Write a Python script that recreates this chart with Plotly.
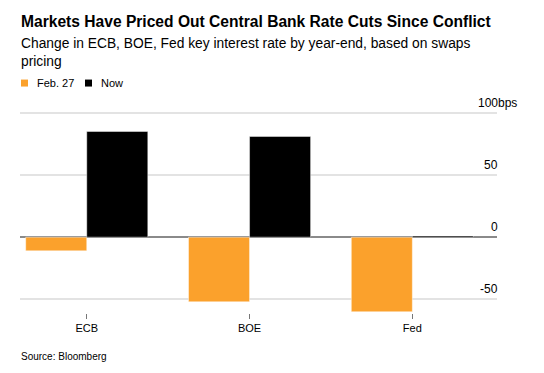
import plotly.graph_objects as go

# ---- data ----
categories = ["ECB", "BOE", "Fed"]
feb27_values = [-11, -52, -60]
now_values = [85, 81, 1]
series_names = ["Feb. 27", "Now"]
ytick_values = [-50, 0, 50, 100]
ytick_labels = ["-50", "0", "50", "100"]
unit_suffix = "bps"
title_text = "Markets Have Priced Out Central Bank Rate Cuts Since Conflict"
subtitle_lines = ["Change in ECB, BOE, Fed key interest rate by year-end, based on swaps", "pricing"]
source_text = "Source: Bloomberg"

ORANGE = "#fba12c"
BLACK = "#000000"
FONT = "Liberation Sans, Arial, Helvetica, sans-serif"

W, H = 544, 373
L, R, T, B = 20, 47, 105.5, 60
plot_h = H - T - B


def py(pix):
    """pixel y (from top of page) -> paper y"""
    return (H - B - pix) / plot_h


def px(pix):
    return (pix - L) / (W - L - R)


fig = go.Figure()
fig.add_trace(go.Bar(x=categories, y=feb27_values, name=series_names[0],
                     marker=dict(color=ORANGE, line=dict(color="rgba(255,255,255,0.45)", width=1)),
                     showlegend=False))
fig.add_trace(go.Bar(x=categories, y=now_values, name=series_names[1],
                     marker=dict(color=BLACK, line=dict(color="rgba(255,255,255,0.45)", width=1)),
                     showlegend=False))

annotations = []
# Title & subtitle
annotations.append(dict(text="<b>" + title_text + "</b>",
                        xref="paper", yref="paper", x=px(19), y=py(21), xanchor="left", yanchor="middle",
                        showarrow=False, font=dict(size=15.6, color="#000", family=FONT)))
for i, line in enumerate(subtitle_lines):
    annotations.append(dict(text=line,
                            xref="paper", yref="paper", x=px(19), y=py(43 + 17.5 * i), xanchor="left",
                            yanchor="middle", align="left", showarrow=False,
                            font=dict(size=13.8, color="#000", family=FONT)))
# Legend text
annotations.append(dict(text=series_names[0], xref="paper", yref="paper", x=px(35), y=py(82),
                        xanchor="left", yanchor="middle", showarrow=False,
                        font=dict(size=11, color="#000", family=FONT)))
annotations.append(dict(text=series_names[1], xref="paper", yref="paper", x=px(99), y=py(82),
                        xanchor="left", yanchor="middle", showarrow=False,
                        font=dict(size=11, color="#000", family=FONT)))
# Y tick labels above gridlines, right aligned (top one carries the unit)
for i, (v, t) in enumerate(zip(ytick_values, ytick_labels)):
    if i == len(ytick_values) - 1:
        annotations.append(dict(text=t + unit_suffix, xref="paper", yref="y", x=px(476), y=v,
                                xanchor="left", yanchor="bottom", yshift=1, showarrow=False,
                                font=dict(size=12, color="#000", family=FONT)))
    else:
        annotations.append(dict(text=t, xref="paper", yref="y", x=1, y=v, xanchor="right", yanchor="bottom",
                                yshift=1, xshift=3, showarrow=False,
                                font=dict(size=12, color="#000", family=FONT)))
# Source
annotations.append(dict(text=source_text, xref="paper", yref="paper", x=px(19), y=py(357),
                        xanchor="left", yanchor="middle", showarrow=False,
                        font=dict(size=10, color="#000", family=FONT)))

shapes = [
    dict(type="rect", xref="paper", yref="paper", x0=px(21), x1=px(28), y0=py(86), y1=py(79),
         fillcolor=ORANGE, line=dict(width=0)),
    dict(type="rect", xref="paper", yref="paper", x0=px(85), x1=px(92), y0=py(86), y1=py(79),
         fillcolor=BLACK, line=dict(width=0)),
]

fig.update_layout(
    width=W, height=H,
    margin=dict(l=L, r=R, t=T, b=B, autoexpand=False),
    paper_bgcolor="white", plot_bgcolor="white",
    barmode="group", bargap=0.25, bargroupgap=0,
    font=dict(family=FONT, color="#000"),
    annotations=annotations, shapes=shapes,
    showlegend=False,
    xaxis=dict(type="category", range=[-0.41, 2.52], showgrid=False, zeroline=False, showline=False,
               ticks="outside", ticklen=5, tickcolor="#777", tickwidth=1,
               tickfont=dict(size=11, color="#000"), fixedrange=True),
    yaxis=dict(range=[-61, 105.5], tickvals=ytick_values, showticklabels=False,
               showgrid=True, gridcolor="#e3e3e3", gridwidth=1.5,
               zeroline=True, zerolinecolor="#8a8a8a", zerolinewidth=1.5, showline=False,
               fixedrange=True),
)

fig.write_html("out.html", config={"displayModeBar": False},
               post_script="document.body.style.margin='0';document.body.style.overflow='hidden';")
